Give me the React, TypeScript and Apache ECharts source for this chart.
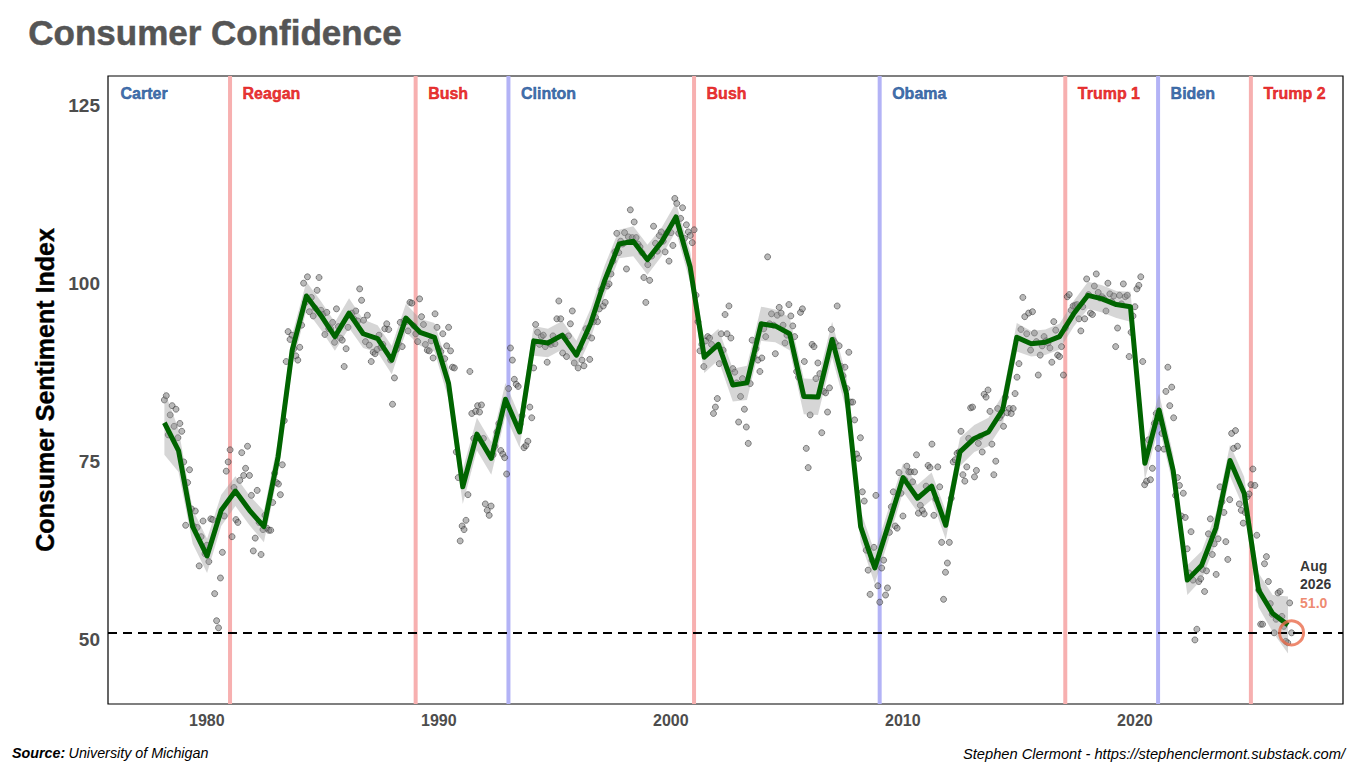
import React, { useEffect, useRef } from "react";
import * as echarts from "echarts";

// ---------------- DATA ----------------
const firstYear = 1978;
// Monthly Consumer Sentiment Index, one row per year (Jan..Dec)
const sentiment: number[][] = [
  [83.7, 84.3, 78.8, 81.6, 82.9, 80.0, 82.4, 78.4, 80.4, 79.3, 75.0, 66.1],
  [72.1, 73.9, 68.4, 66.0, 68.1, 65.8, 60.4, 64.5, 66.7, 62.1, 63.3, 61.0],
  [67.0, 66.9, 56.5, 52.7, 51.7, 58.7, 62.3, 67.4, 73.7, 75.0, 76.7, 64.5],
  [71.4, 66.9, 66.5, 72.4, 76.3, 73.1, 74.1, 77.2, 73.1, 70.3, 62.5, 64.3],
  [71.0, 66.5, 62.0, 65.5, 67.5, 65.7, 65.4, 65.4, 69.3, 73.4, 72.1, 71.9],
  [70.4, 74.6, 80.8, 89.1, 93.3, 92.2, 92.8, 90.9, 89.9, 89.3, 91.1, 94.2],
  [100.1, 97.4, 101.0, 96.1, 98.1, 95.5, 96.6, 99.1, 100.9, 96.3, 95.7, 92.9],
  [96.0, 93.7, 93.7, 94.6, 91.8, 96.5, 94.0, 92.4, 92.1, 88.4, 90.9, 93.9],
  [95.6, 95.9, 95.1, 96.2, 94.8, 99.3, 97.7, 94.9, 91.9, 95.6, 91.4, 89.1],
  [90.4, 90.2, 90.8, 92.8, 91.1, 91.5, 93.7, 94.4, 93.6, 89.3, 83.1, 86.8],
  [90.8, 91.6, 94.6, 91.2, 94.8, 94.7, 93.4, 97.4, 97.3, 94.1, 93.0, 91.9],
  [97.9, 95.4, 94.3, 91.5, 90.7, 90.6, 92.0, 89.6, 95.8, 93.9, 90.9, 90.5],
  [93.0, 89.5, 91.3, 93.9, 90.6, 88.3, 88.2, 76.4, 72.8, 63.9, 66.0, 65.5],
  [66.8, 70.4, 87.7, 81.8, 78.3, 82.1, 82.9, 82.0, 83.0, 78.3, 69.1, 68.2],
  [67.5, 68.8, 76.0, 77.2, 79.2, 80.4, 76.6, 76.1, 75.6, 73.3, 85.3, 91.0],
  [89.3, 86.6, 85.9, 85.6, 80.3, 81.5, 77.0, 77.3, 77.9, 82.7, 81.2, 88.2],
  [94.3, 93.2, 91.5, 92.6, 92.8, 91.2, 89.0, 91.7, 91.5, 92.7, 91.6, 95.1],
  [97.6, 95.1, 90.3, 92.5, 89.8, 92.7, 94.4, 96.2, 88.9, 90.2, 88.2, 91.0],
  [89.3, 88.5, 93.7, 92.7, 89.4, 92.4, 94.7, 95.3, 94.7, 96.5, 99.2, 96.9],
  [97.4, 99.7, 100.0, 101.4, 103.2, 104.5, 107.1, 104.4, 106.0, 105.6, 107.2, 102.1],
  [106.6, 110.4, 106.5, 108.7, 106.5, 105.6, 105.2, 104.4, 100.9, 97.4, 102.7, 100.5],
  [103.9, 108.1, 105.7, 104.6, 106.8, 107.3, 106.0, 104.5, 107.2, 103.2, 107.2, 105.4],
  [112.0, 111.3, 107.1, 109.2, 110.7, 106.4, 108.3, 107.3, 106.8, 105.8, 107.6, 98.4],
  [94.7, 90.6, 91.5, 88.4, 92.0, 92.6, 92.4, 91.5, 81.8, 82.7, 83.9, 88.8],
  [93.0, 90.7, 95.7, 93.0, 96.9, 92.4, 88.1, 87.6, 86.1, 80.6, 84.2, 86.7],
  [82.4, 79.9, 77.6, 86.0, 92.1, 89.7, 90.9, 89.3, 87.7, 89.6, 93.7, 92.6],
  [103.8, 94.4, 95.8, 94.2, 90.2, 95.6, 96.7, 95.9, 94.2, 91.7, 92.8, 97.1],
  [95.5, 94.1, 92.6, 87.7, 86.9, 96.0, 96.5, 89.1, 76.9, 74.2, 81.6, 91.5],
  [91.2, 86.7, 88.9, 87.4, 79.1, 84.9, 84.7, 82.0, 85.4, 93.6, 92.1, 91.7],
  [96.9, 91.3, 88.4, 87.1, 88.3, 85.3, 90.4, 83.4, 83.4, 80.9, 76.1, 75.5],
  [78.4, 70.8, 69.5, 62.6, 59.8, 56.4, 61.2, 63.0, 70.3, 57.6, 55.3, 60.1],
  [61.2, 56.3, 57.3, 65.1, 68.7, 70.8, 66.0, 65.7, 73.5, 70.6, 67.4, 72.5],
  [74.4, 73.6, 73.6, 72.2, 73.6, 76.0, 67.8, 68.9, 68.2, 67.7, 71.6, 74.5],
  [74.2, 77.5, 67.5, 69.8, 74.3, 71.5, 63.7, 55.7, 59.5, 60.8, 63.7, 69.9],
  [75.0, 75.3, 76.2, 76.4, 79.3, 73.2, 72.3, 74.3, 78.3, 82.6, 82.7, 72.9],
  [73.8, 77.6, 78.6, 76.4, 84.5, 84.1, 85.1, 82.1, 77.5, 73.2, 75.1, 82.5],
  [81.2, 81.6, 80.0, 84.1, 81.9, 82.5, 81.8, 82.5, 84.6, 86.9, 88.8, 93.6],
  [98.1, 95.4, 93.0, 95.9, 90.7, 96.1, 93.1, 91.9, 87.2, 90.0, 91.3, 92.6],
  [92.0, 91.7, 91.0, 89.0, 94.7, 93.5, 90.0, 89.8, 91.2, 87.2, 93.8, 98.2],
  [98.5, 96.3, 96.9, 97.0, 97.1, 95.1, 93.4, 96.8, 95.1, 100.7, 98.5, 95.9],
  [95.7, 99.7, 101.4, 98.8, 98.0, 98.2, 97.9, 96.2, 100.1, 98.6, 97.5, 98.3],
  [91.2, 93.8, 98.4, 97.2, 100.0, 98.2, 98.4, 89.8, 93.2, 95.5, 96.8, 99.3],
  [99.8, 101.0, 89.1, 71.8, 72.3, 78.1, 72.5, 74.1, 80.4, 81.8, 76.9, 80.7],
  [79.0, 76.8, 84.9, 88.3, 82.9, 85.5, 81.2, 70.3, 72.8, 71.7, 67.4, 70.6],
  [67.2, 62.8, 59.4, 65.2, 58.4, 50.0, 51.5, 58.2, 58.6, 59.9, 56.8, 59.7],
  [64.9, 67.0, 62.0, 63.5, 59.2, 64.2, 71.5, 69.4, 67.9, 63.8, 61.3, 69.7],
  [79.0, 76.9, 79.4, 77.2, 69.1, 68.2, 66.4, 67.9, 70.1, 70.5, 71.8, 74.0],
  [71.7, 64.7, 57.0, 52.2, 52.2, 60.7, 61.7, 58.2, 55.1, 53.6, 51.0, 52.9],
  [56.6, 56.8, 53.3, 51.9, 49.8, 49.6, 55.2, 51.0],
];

// Smoothed (loess) fit
const smoothYears = [
  1978.17, 1978.78, 1979.39, 1980.01, 1980.62, 1981.23, 1981.84, 1982.46, 1983.07, 1983.68,
  1984.29, 1984.91, 1985.52, 1986.13, 1986.74, 1987.36, 1987.97, 1988.58, 1989.19, 1989.81,
  1990.42, 1991.03, 1991.64, 1992.26, 1992.87, 1993.48, 1994.09, 1994.7, 1995.32, 1995.93,
  1996.54, 1997.15, 1997.77, 1998.38, 1998.99, 1999.6, 2000.22, 2000.83, 2001.44, 2002.05,
  2002.67, 2003.28, 2003.89, 2004.5, 2005.12, 2005.73, 2006.34, 2006.95, 2007.57, 2008.18,
  2008.79, 2009.4, 2010.01, 2010.63, 2011.24, 2011.85, 2012.46, 2013.08, 2013.69, 2014.3,
  2014.91, 2015.53, 2016.14, 2016.75, 2017.36, 2017.98, 2018.59, 2019.2, 2019.81, 2020.43,
  2021.04, 2021.65, 2022.26, 2022.88, 2023.49, 2024.1, 2024.71, 2025.33, 2025.94, 2026.6,
];
const smoothValues = [
  80.5, 76.6, 65.9, 61.8, 68.2, 70.9, 68.2, 65.9, 75.7, 90.7,
  98.3, 95.6, 92.6, 95.9, 93.0, 92.3, 89.3, 95.2, 93.2, 92.5,
  86.0, 71.5, 78.9, 75.5, 83.8, 79.2, 92.0, 91.7, 92.8, 90.0,
  94.4, 100.5, 105.6, 106.0, 103.4, 105.9, 109.4, 102.4, 89.7, 91.5,
  85.8, 86.1, 94.4, 94.1, 93.0, 84.2, 84.1, 92.2, 84.6, 65.9,
  60.1, 66.4, 72.8, 69.9, 71.6, 66.1, 76.4, 78.3, 79.2, 82.3,
  92.5, 91.6, 91.8, 92.6, 95.8, 98.4, 97.9, 97.1, 96.8, 74.8,
  82.3, 73.8, 58.4, 60.5, 65.7, 75.2, 70.6, 57.0, 53.7, 52.1,
];
// Half-width of the grey confidence band
const ciHalf = [
  4.5, 3.0, 2.4, 2.4, 2.2, 2.1, 2.1, 2.2, 2.3, 2.2,
  2.0, 2.0, 2.0, 2.1, 2.0, 1.9, 2.0, 2.0, 1.9, 2.0,
  2.2, 2.4, 2.3, 2.3, 2.3, 2.2, 2.1, 2.0, 2.0, 2.0,
  2.1, 2.1, 2.0, 2.1, 2.1, 2.0, 2.0, 2.2, 2.2, 2.2,
  2.3, 2.4, 2.4, 2.3, 2.3, 2.5, 2.5, 2.5, 2.4, 2.2,
  2.2, 2.2, 2.0, 1.9, 1.9, 2.0, 2.0, 1.9, 2.0, 2.1,
  2.0, 1.8, 1.8, 1.8, 1.8, 1.9, 1.9, 1.9, 2.1, 2.3,
  2.3, 2.2, 2.1, 2.0, 2.1, 2.2, 2.3, 2.4, 2.6, 4.0,
];

const presidentNames = ["Carter", "Reagan", "Bush", "Clinton", "Bush", "Obama", "Trump 1", "Biden", "Trump 2"];
const presidentStart = [1977, 1981, 1989, 1993, 2001, 2009, 2017, 2021, 2025];
const presidentParty = ["D", "R", "R", "D", "R", "D", "R", "D", "R"];

const xTicks = [1980, 1990, 2000, 2010, 2020];
const yTicks = [50, 75, 100, 125];

const latestLabelMonth = "Aug";
const latestLabelYear = "2026";
const latestValue = 51.0;

// ---------------- STYLE ----------------
const FONT = "'Liberation Sans', Arial, Helvetica, sans-serif";
const X_MIN = 1975.74;
const X_MAX = 2028.97;
const Y_MIN = 41;
const Y_MAX = 129.2;
const MONTH_OFFSET = 0.17;
const RED_LINE = "#f7b0b0";
const BLUE_LINE = "#b3b3f6";
const RED_TEXT = "#e00000";
const BLUE_TEXT = "#104a94";
const ORANGE = "#ea6b4b";

export default function App() {
  const ref = useRef<HTMLDivElement>(null);

  useEffect(() => {
    if (!ref.current) return;
    const chart = echarts.init(ref.current, null, { renderer: "svg" });

    const points: number[][] = [];
    sentiment.forEach((row, yi) => {
      row.forEach((v, m) => {
        if (v != null) points.push([firstYear + yi + m / 12 + MONTH_OFFSET, v]);
      });
    });
    const lastPoint = points[points.length - 1];

    const ribbonData = smoothYears.map((x, i) => [x, smoothValues[i] - ciHalf[i], smoothValues[i] + ciHalf[i]]);
    const lineData = smoothYears.map((x, i) => [x, smoothValues[i]]);

    // Term-start lines only for terms that begin after the data starts
    const vlineData = presidentStart
      .map((y, i) => [y, presidentParty[i] === "R" ? 1 : 0])
      .filter((d) => d[0] > firstYear);

    const presLabelData = presidentNames.map((n, i) => {
      const c = presidentParty[i] === "R" ? RED_TEXT : BLUE_TEXT;
      return {
        value: [presidentStart[i] > firstYear ? presidentStart[i] : X_MIN, 126.7],
        name: n,
        label: { color: c, textBorderColor: c, textBorderWidth: 0.5 },
      };
    });

    const option: any = {
      animation: false,
      textStyle: { fontFamily: FONT },
      grid: {
        left: 108,
        right: 24,
        top: 76,
        bottom: 59,
        show: true,
        borderColor: "#000",
        borderWidth: 1.2,
        backgroundColor: "#fff",
        z: 0,
      },
      xAxis: {
        type: "value",
        min: X_MIN,
        max: X_MAX,
        splitLine: { show: false },
        axisLine: { show: false },
        axisTick: { show: false },
        axisLabel: {
          customValues: xTicks,
          color: "#4d4d4d",
          fontWeight: "bold",
          fontSize: 16,
          fontFamily: FONT,
          margin: 8,
          formatter: (v: number) => String(Math.round(v)),
        },
      },
      yAxis: {
        type: "value",
        min: Y_MIN,
        max: Y_MAX,
        splitLine: { show: false },
        axisLine: { show: false },
        axisTick: { show: false },
        axisLabel: {
          customValues: yTicks,
          color: "#4d4d4d",
          fontWeight: "bold",
          fontSize: 19,
          fontFamily: FONT,
          margin: 8,
          formatter: (v: number) => String(Math.round(v)),
        },
        name: "Consumer Sentiment Index",
        nameLocation: "middle",
        nameRotate: 90,
        nameGap: 43,
        nameTextStyle: {
          color: "#000",
          fontWeight: "bold",
          fontSize: 25,
          fontFamily: FONT,
          textBorderColor: "#000",
          textBorderWidth: 0.4,
        },
      },
      graphic: [
        {
          type: "text",
          left: 28,
          top: 15,
          style: {
            text: "Consumer Confidence",
            fill: "#555555",
            font: `bold 35px ${FONT}`,
            stroke: "#555555",
            lineWidth: 0.5,
          },
        },
        {
          type: "text",
          left: 12,
          top: 746,
          style: {
            text: "{b|Source:} {n|University of Michigan}",
            rich: {
              b: { fontWeight: "bold", fontStyle: "italic", fontSize: 14.3, fontFamily: FONT, fill: "#000" },
              n: { fontStyle: "italic", fontSize: 14.3, fontFamily: FONT, fill: "#000" },
            },
          },
        },
        {
          type: "text",
          right: 22,
          top: 746,
          style: {
            text: "Stephen Clermont - https://stephenclermont.substack.com/",
            fill: "#000",
            font: `italic 14.7px ${FONT}`,
          },
        },
      ],
      series: [
        {
          type: "custom",
          name: "terms",
          z: 1,
          silent: true,
          data: vlineData,
          renderItem: (params: any, api: any) => {
            const x = api.value(0);
            const party = api.value(1);
            const p1 = api.coord([x, Y_MIN]);
            const p2 = api.coord([x, Y_MAX]);
            return {
              type: "line",
              shape: { x1: p1[0], y1: p1[1], x2: p2[0], y2: p2[1] },
              style: { stroke: party === 1 ? RED_LINE : BLUE_LINE, lineWidth: 4 },
            };
          },
        },
        {
          type: "scatter",
          name: "presidents",
          z: 2,
          silent: true,
          symbol: "circle",
          symbolSize: 1,
          itemStyle: { color: "transparent" },
          data: presLabelData,
          label: {
            show: true,
            position: "right",
            distance: 12,
            formatter: (p: any) => p.name,
            fontWeight: "bold",
            fontSize: 16,
            fontFamily: FONT,
          },
        },
        {
          type: "scatter",
          name: "monthly",
          z: 3,
          silent: true,
          symbolSize: 6,
          itemStyle: { color: "rgba(120,120,120,0.65)", borderColor: "rgba(30,30,30,0.85)", borderWidth: 0.7 },
          data: points,
          markLine: {
            silent: true,
            symbol: "none",
            label: { show: false },
            lineStyle: { color: "#000", width: 2, type: [9, 6] },
            data: [{ yAxis: latestValue }],
          },
        },
        {
          type: "custom",
          name: "ribbon",
          z: 4,
          silent: true,
          data: ribbonData,
          encode: { x: 0, y: [1, 2] },
          renderItem: (params: any, api: any) => {
            if (params.dataIndex !== 0) return null;
            const upper = ribbonData.map((d) => api.coord([d[0], d[2]]));
            const lower = ribbonData.map((d) => api.coord([d[0], d[1]])).reverse();
            return {
              type: "polygon",
              shape: { points: upper.concat(lower) },
              style: { fill: "rgba(153,153,153,0.4)", stroke: "none" },
            };
          },
        },
        {
          type: "line",
          name: "smooth",
          z: 5,
          silent: true,
          data: lineData,
          showSymbol: false,
          symbol: "none",
          lineStyle: { color: "#006400", width: 5, join: "round" },
        },
        {
          type: "scatter",
          name: "latest",
          z: 6,
          silent: true,
          symbol: "circle",
          symbolSize: 24,
          itemStyle: { color: "rgba(0,0,0,0)", borderColor: ORANGE, borderWidth: 3 },
          data: [[lastPoint[0], latestValue]],
          label: {
            show: true,
            position: [22, -62],
            align: "left",
            verticalAlign: "top",
            formatter: `{a|${latestLabelMonth}}\n{a|${latestLabelYear}}\n{b|${latestValue.toFixed(1)}}`,
            rich: {
              a: { fontWeight: "bold", fontSize: 14, color: "#000", lineHeight: 18, fontFamily: FONT },
              b: { fontWeight: "bold", fontSize: 14, color: ORANGE, lineHeight: 20, fontFamily: FONT },
            },
          },
        },
      ],
    };

    chart.setOption(option);
    return () => chart.dispose();
  }, []);

  return (
    <div
      ref={ref}
      style={{ position: "fixed", left: 0, top: 0, width: 1367, height: 763, background: "#fff" }}
    />
  );
}
